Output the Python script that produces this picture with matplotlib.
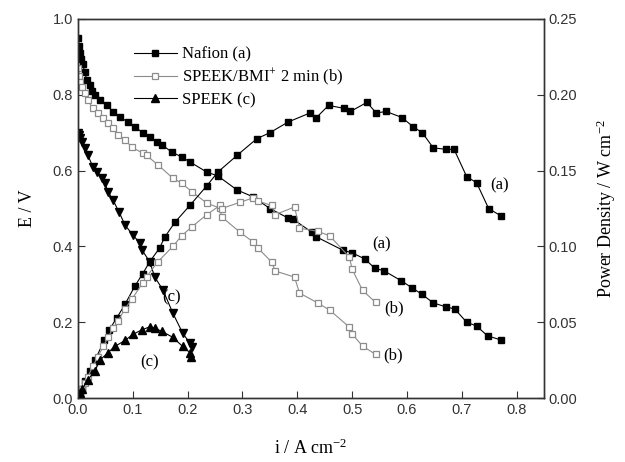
import matplotlib
matplotlib.use("Agg")
from matplotlib import pyplot as plt
from matplotlib.lines import Line2D

plt.rcParams['mathtext.fontset'] = 'custom'
plt.rcParams['mathtext.rm'] = 'Liberation Serif'
plt.rcParams['mathtext.it'] = 'Liberation Serif:italic'

# Nafion (a)
i_a_E = [0, 0.002, 0.004, 0.006, 0.009, 0.012, 0.016, 0.021, 0.026, 0.031, 0.040, 0.053,
         0.064, 0.077, 0.091, 0.104, 0.118, 0.131, 0.144, 0.153, 0.171, 0.189, 0.204, 0.235,
         0.255, 0.290, 0.319, 0.350, 0.383, 0.392, 0.426, 0.435, 0.483, 0.500, 0.523, 0.541,
         0.559, 0.590, 0.610, 0.627, 0.648, 0.672, 0.687, 0.709, 0.727, 0.747, 0.772]
E_a = [0.95, 0.93, 0.91, 0.895, 0.88, 0.86, 0.84, 0.825, 0.81, 0.80, 0.786, 0.773,
       0.755, 0.741, 0.728, 0.715, 0.70, 0.689, 0.675, 0.668, 0.649, 0.636, 0.623, 0.596,
       0.586, 0.549, 0.531, 0.50, 0.475, 0.472, 0.438, 0.425, 0.39, 0.383, 0.367, 0.343,
       0.335, 0.309, 0.29, 0.274, 0.251, 0.24, 0.235, 0.20, 0.19, 0.164, 0.153]
i_a_P = [0, 0.004, 0.007, 0.013, 0.022, 0.031, 0.048, 0.057, 0.071, 0.086, 0.104, 0.118,
         0.131, 0.149, 0.158, 0.177, 0.204, 0.235, 0.255, 0.290, 0.326, 0.350, 0.383, 0.423,
         0.435, 0.457, 0.486, 0.497, 0.527, 0.544, 0.562, 0.591, 0.611, 0.628, 0.648, 0.672,
         0.686, 0.709, 0.727, 0.749, 0.772]
P_a = [0, 0.003, 0.006, 0.011, 0.018, 0.025, 0.038, 0.045, 0.053, 0.062, 0.074, 0.082,
       0.090, 0.099, 0.106, 0.116, 0.127, 0.140, 0.149, 0.160, 0.171, 0.175, 0.182, 0.188,
       0.185, 0.193, 0.191, 0.189, 0.195, 0.188, 0.189, 0.185, 0.179, 0.175, 0.165, 0.164,
       0.164, 0.146, 0.142, 0.125, 0.120]

# SPEEK/BMI+ 2 min (b)
i_b_E = [0, 0.002, 0.004, 0.007, 0.012, 0.018, 0.027, 0.036, 0.046, 0.055, 0.064, 0.073,
         0.086, 0.098, 0.118, 0.125, 0.146, 0.173, 0.189, 0.208, 0.235, 0.259, 0.262, 0.295,
         0.319, 0.328, 0.353, 0.360, 0.395, 0.404, 0.437, 0.459, 0.495, 0.500, 0.519, 0.543]
E_b = [0.87, 0.85, 0.835, 0.82, 0.805, 0.785, 0.765, 0.752, 0.739, 0.726, 0.712, 0.694,
       0.681, 0.662, 0.646, 0.640, 0.615, 0.580, 0.567, 0.544, 0.514, 0.501, 0.478, 0.438,
       0.412, 0.396, 0.359, 0.335, 0.319, 0.277, 0.251, 0.232, 0.187, 0.169, 0.137, 0.115]
i_b_P = [0, 0.004, 0.007, 0.012, 0.018, 0.027, 0.036, 0.046, 0.055, 0.064, 0.073, 0.086,
         0.098, 0.118, 0.125, 0.146, 0.173, 0.189, 0.208, 0.235, 0.259, 0.262, 0.295, 0.319,
         0.328, 0.353, 0.360, 0.395, 0.404, 0.437, 0.459, 0.495, 0.500, 0.519, 0.543]
P_b = [0, 0.003, 0.006, 0.010, 0.014, 0.021, 0.027, 0.034, 0.040, 0.046, 0.051, 0.059,
       0.065, 0.076, 0.080, 0.090, 0.100, 0.107, 0.113, 0.121, 0.127, 0.125, 0.129, 0.132,
       0.130, 0.127, 0.121, 0.126, 0.112, 0.110, 0.107, 0.093, 0.085, 0.071, 0.063]

# SPEEK (c)
i_c_E = [0, 0.002, 0.004, 0.008, 0.013, 0.018, 0.027, 0.035, 0.044, 0.049, 0.055, 0.064,
         0.075, 0.086, 0.100, 0.113, 0.117, 0.131, 0.140, 0.155, 0.173, 0.191, 0.204, 0.208]
E_c = [0.70, 0.695, 0.685, 0.675, 0.66, 0.641, 0.61, 0.596, 0.58, 0.567, 0.544, 0.522,
       0.49, 0.456, 0.43, 0.409, 0.39, 0.359, 0.319, 0.285, 0.224, 0.171, 0.145, 0.135]
i_c_P = [0, 0.004, 0.008, 0.018, 0.031, 0.040, 0.055, 0.067, 0.086, 0.100, 0.117, 0.131,
         0.140, 0.153, 0.173, 0.191, 0.204, 0.206]
P_c = [0, 0.003, 0.006, 0.012, 0.018, 0.025, 0.030, 0.034, 0.038, 0.042, 0.045, 0.047,
       0.046, 0.044, 0.040, 0.034, 0.030, 0.027]

labels = ["Nafion (a)", "SPEEK/BMI$^{+}$ 2 min (b)", "SPEEK (c)"]

GRAY = '#8c8c8c'
serif = 'Liberation Serif'
sans = 'Liberation Sans'

fig = plt.figure(figsize=(6.25, 4.62), dpi=100)
ax = fig.add_axes([0.1248, 0.1385, 0.7456, 0.8204])
ax2 = ax.twinx()

ax.plot(i_a_E, E_a, color='black', lw=0.8, marker='s', ms=4.5, mfc='black', mec='black')
ax.plot(i_b_E, E_b, color=GRAY, lw=0.8, marker='s', ms=5, mfc='white', mec=GRAY, mew=0.9)
ax.plot(i_c_E, E_c, color='black', lw=0.8, marker='v', ms=5.5, mfc='black', mec='black')

ax2.plot(i_a_P, P_a, color='black', lw=0.8, marker='s', ms=4.5, mfc='black', mec='black')
ax2.plot(i_b_P, P_b, color=GRAY, lw=0.8, marker='s', ms=5, mfc='white', mec=GRAY, mew=0.9)
ax2.plot(i_c_P, P_c, color='black', lw=0.8, marker='^', ms=5.5, mfc='black', mec='black')

ax.set_xlim(0, 0.85)
ax.set_ylim(0, 1.0)
ax2.set_ylim(0, 0.25)
ax.set_xticks([0.0, 0.1, 0.2, 0.3, 0.4, 0.5, 0.6, 0.7, 0.8])
ax.set_yticks([0.0, 0.2, 0.4, 0.6, 0.8, 1.0])
ax2.set_yticks([0.0, 0.05, 0.10, 0.15, 0.20, 0.25])
ax.xaxis.set_major_formatter(plt.FormatStrFormatter('%.1f'))
ax.yaxis.set_major_formatter(plt.FormatStrFormatter('%.1f'))
ax2.yaxis.set_major_formatter(plt.FormatStrFormatter('%.2f'))

for a in (ax, ax2):
    a.tick_params(direction='in', length=5, width=0.8, labelsize=10.5, colors='#333333')
    for lab in a.get_xticklabels() + a.get_yticklabels():
        lab.set_family(sans)
    for s in a.spines.values():
        s.set_linewidth(1.0)
        s.set_color('#333333')

ax.set_xlabel("i / A cm$^{-2}$", family=serif, fontsize=13, labelpad=16)
ax.set_ylabel("E / V", family=serif, fontsize=13, labelpad=12)
ax2.set_ylabel("Power Density / W cm$^{-2}$", family=serif, fontsize=13, labelpad=12)

handles = [
    Line2D([], [], color='black', lw=0.8, marker='s', ms=4.5, mfc='black', mec='black'),
    Line2D([], [], color=GRAY, lw=0.8, marker='s', ms=5, mfc='white', mec=GRAY, mew=0.9),
    Line2D([], [], color='black', lw=0.8, marker='^', ms=5.5, mfc='black', mec='black'),
]
ax.legend(handles, labels, loc='upper left', bbox_to_anchor=(0.105, 0.945), frameon=False,
          prop={'family': serif, 'size': 12}, handlelength=2.6, handletextpad=0.3,
          labelspacing=0.25, borderaxespad=0)

ann = dict(family=serif, fontsize=12, ha='center', va='center')
ax.text(0.769, 0.562, "(a)", **ann)
ax.text(0.554, 0.404, "(a)", **ann)
ax.text(0.577, 0.237, "(b)", **ann)
ax.text(0.574, 0.113, "(b)", **ann)
ax.text(0.171, 0.266, "(c)", **ann)
ax.text(0.131, 0.095, "(c)", **ann)

fig.savefig('out.png', dpi=100)
